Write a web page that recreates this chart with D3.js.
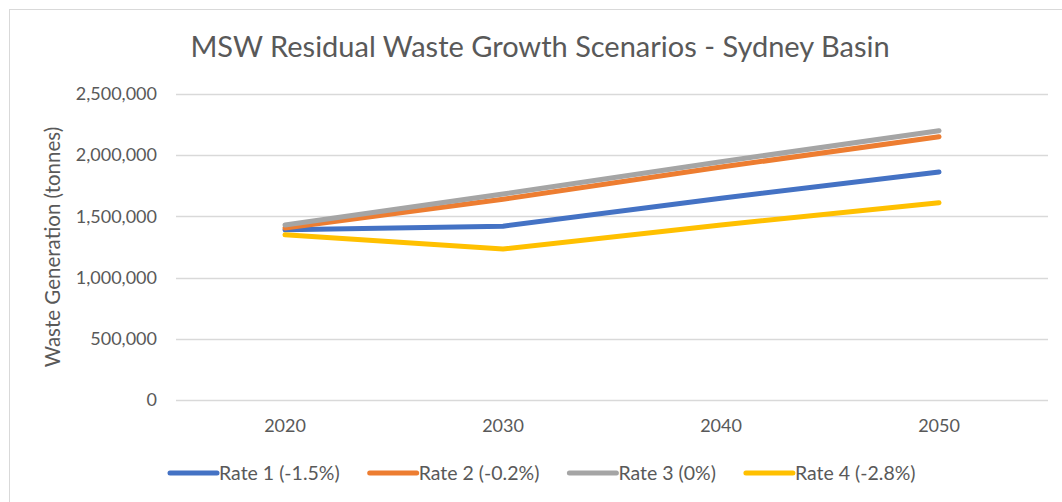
<!DOCTYPE html>
<html>
<head>
<meta charset="utf-8">
<script src="https://cdn.jsdelivr.net/npm/d3@7"></script>
<style>
  body { margin: 0; background: #fff; }
  text { font-family: Lato, "Open Sans", sans-serif; fill: #595959; }
</style>
</head>
<body>
<svg width="1062" height="502"></svg>
<script>
// data
var years = ["2020", "2030", "2040", "2050"];
var seriesNames = ["Rate 1 (-1.5%)", "Rate 2 (-0.2%)", "Rate 3 (0%)", "Rate 4 (-2.8%)"];
var rate1 = [1390000, 1420000, 1648000, 1863000];
var rate2 = [1405000, 1640000, 1903000, 2151000];
var rate3 = [1430000, 1683000, 1947000, 2200000];
var rate4 = [1350000, 1233000, 1430000, 1612000];
var yTicks = [0, 500000, 1000000, 1500000, 2000000, 2500000];
var colors = ["#4472C4", "#ED7D31", "#A5A5A5", "#FFC000"];

var series = [rate1, rate2, rate3, rate4].map(function(v, i) {
  return { name: seriesNames[i], values: v, color: colors[i] };
});

var svg = d3.select("svg");

// chart area border (right/bottom fall outside the crop)
svg.append("rect")
  .attr("x", 9.5).attr("y", 9.5)
  .attr("width", 1070).attr("height", 510)
  .attr("fill", "#fff").attr("stroke", "#d9d9d9");

var x = d3.scaleBand().domain(years).range([176, 1048]).padding(0);
var y = d3.scaleLinear().domain([0, 2500000]).range([400, 94]);

// title
svg.append("text")
  .attr("x", 540).attr("y", 57)
  .attr("text-anchor", "middle")
  .style("font-size", "29px")
  .text("MSW Residual Waste Growth Scenarios - Sydney Basin");

// gridlines
svg.append("g").selectAll("line").data(yTicks).enter().append("line")
  .attr("x1", 176).attr("x2", 1048)
  .attr("y1", function(d) { return Math.round(y(d)) + 0.5; })
  .attr("y2", function(d) { return Math.round(y(d)) + 0.5; })
  .attr("stroke", "#d9d9d9").attr("stroke-width", 1.5);

// y axis
var yAxis = svg.append("g").attr("transform", "translate(176,0)")
  .call(d3.axisLeft(y).tickValues(yTicks).tickSize(0).tickPadding(19)
    .tickFormat(d3.format(",")));
yAxis.select(".domain").remove();
yAxis.selectAll("text").style("font-size", "18px").style("fill", "#595959");

// x axis
var xAxis = svg.append("g").attr("transform", "translate(0,400)")
  .call(d3.axisBottom(x).tickSize(0).tickPadding(19));
xAxis.select(".domain").remove();
xAxis.selectAll("text").style("font-size", "18px").style("fill", "#595959");

// y axis title
svg.append("text")
  .attr("transform", "translate(60,247) rotate(-90)")
  .attr("text-anchor", "middle")
  .style("font-size", "20.5px")
  .text("Waste Generation (tonnes)");

// lines
var line = d3.line()
  .x(function(d, i) { return x(years[i]) + x.bandwidth() / 2; })
  .y(function(d) { return y(d); });

svg.append("g").selectAll("path").data(series).enter().append("path")
  .attr("d", function(d) { return line(d.values); })
  .attr("fill", "none")
  .attr("stroke", function(d) { return d.color; })
  .attr("stroke-width", 5)
  .attr("stroke-linecap", "round")
  .attr("stroke-linejoin", "round");

// legend
var legend = svg.append("g");
var lx = 170;
series.forEach(function(s) {
  legend.append("line")
    .attr("x1", lx).attr("x2", lx + 47)
    .attr("y1", 473).attr("y2", 473)
    .attr("stroke", s.color).attr("stroke-width", 5)
    .attr("stroke-linecap", "round");
  var t = legend.append("text")
    .attr("x", lx + 49).attr("y", 480)
    .style("font-size", "19.5px")
    .text(s.name);
  lx += 49 + t.node().getComputedTextLength() + 30;
});
</script>
</body>
</html>
